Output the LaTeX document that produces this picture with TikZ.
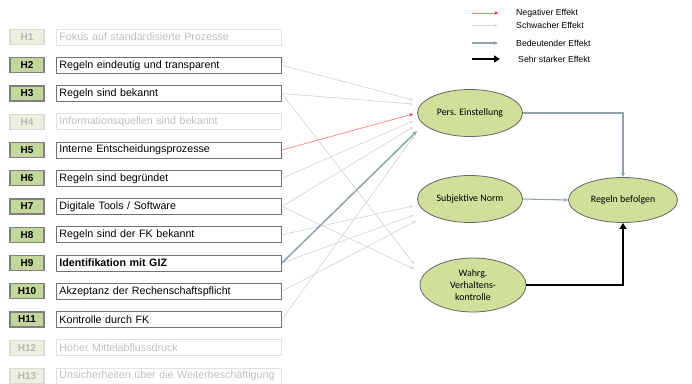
\documentclass[tikz,border=0pt]{standalone}
\usepackage{fontspec}
\setmainfont{Liberation Sans}
\newfontfamily\calib{Carlito}
\usetikzlibrary{arrows.meta,shapes.geometric}

\definecolor{hgreen}{HTML}{C3D69B}
\definecolor{hgreenpale}{HTML}{EBF1DE}
\definecolor{ellgreen}{HTML}{D0DF9A}
\definecolor{sigblue}{HTML}{8FA4A8}
\definecolor{weakgray}{HTML}{D6D6D6}
\definecolor{negred}{HTML}{FF8080}

\tikzset{
  hlab/.style={draw=black!50, line width=1.2pt, fill=hgreen, minimum width=34pt,
    minimum height=15pt, inner sep=0pt, font=\bfseries\fontsize{10}{11}\selectfont},
  hlabfaded/.style={hlab, draw=black!15, fill=hgreenpale, text=black!28},
  tbox/.style={draw=black!55, line width=0.9pt, minimum height=16pt, inner ysep=0pt,
    inner xsep=3pt, text width=219pt, align=left, anchor=west,
    font=\fontsize{10.7}{12}\selectfont},
  tboxfaded/.style={tbox, draw=black!12, text=black!25},
  factor/.style={ellipse, draw=black!60, line width=0.8pt, fill=ellgreen,
    minimum width=105pt, minimum height=47pt, inner sep=0pt, align=center,
    font=\calib\fontsize{9.9}{12}\selectfont},
  weak/.style={draw=weakgray, line width=0.7pt, -{Stealth[length=3.5pt,width=3pt]}},
  negative/.style={draw=negred, line width=0.7pt,
    -{Stealth[length=3.5pt,width=3pt,color=red,fill=red]}},
  significant/.style={draw=sigblue, line width=1.5pt, -{Stealth[length=5pt,width=4.5pt]}},
  pathway/.style={draw=sigblue, line width=1.1pt, -{Stealth[length=4.5pt,width=4pt]}},
  strong/.style={draw=black, line width=2.6pt, -{Triangle[length=6pt,width=7pt]}},
  legendtext/.style={anchor=west, inner sep=0pt, font=\fontsize{8.7}{10}\selectfont},
}

\begin{document}
\begin{tikzpicture}[x=1pt, y=-1pt]
\useasboundingbox (0,0) rectangle (692,383);

% hypotheses: label box and statement box per row (f = faded, a = active)
\foreach \i/\txt/\st in {
  1/{Fokus auf standardisierte Prozesse}/f,
  2/{Regeln eindeutig und transparent}/a,
  3/{Regeln sind bekannt}/a,
  4/{Informationsquellen sind bekannt}/f,
  5/{Interne Entscheidungsprozesse}/a,
  6/{Regeln sind begründet}/a,
  7/{Digitale Tools / Software}/a,
  8/{Regeln sind der FK bekannt}/a,
  9/{\textbf{Identifikation mit GIZ}}/a,
  10/{Akzeptanz der Rechenschaftspflicht}/a,
  11/{Kontrolle durch FK}/a,
  12/{Hoher Mittelabflussdruck}/f,
  13/{Unsicherheiten über die Weiterbeschäftigung}/f}
{
  \pgfmathsetmacro{\yy}{37+(\i-1)*28.25}
  \if\st f
    \node[hlabfaded] (h\i) at (27,\yy) {H\i};
    \node[tboxfaded] (t\i) at (56,\yy) {\txt};
  \else
    \node[hlab] (h\i) at (27,\yy) {H\i};
    \node[tbox] (t\i) at (56,\yy) {\txt};
  \fi
}

% latent factors
\node[factor] (pe) at (470,113) {Pers. Einstellung};
\node[factor] (sn) at (470,199) {Subjektive Norm};
\node[factor, minimum width=106pt, minimum height=54pt] (wv) at (473,285)
  {Wahrg.\\Verhaltens-\\kontrolle};
\node[factor, minimum width=109pt, minimum height=45pt] (rb) at (623,200) {Regeln befolgen};

% arrow targets in front of the factors
\coordinate (pe1) at (413,100);
\coordinate (pe2) at (413,104);
\coordinate (pe3) at (413,114);
\coordinate (pe4) at (413,121);
\coordinate (pe5) at (413,127);
\coordinate (pe6) at (417,131);
\coordinate (pe7) at (414,136);
\coordinate (sn1) at (413,206);
\coordinate (sn2) at (414,215);
\coordinate (sn3) at (416,221);
\coordinate (wv1) at (414,264);
\coordinate (wv2) at (414,269);

% hypothesis effects
\draw[weak] (t2.east) -- (pe1);
\draw[weak] (t3.east) -- (pe2);
\draw[weak] (t6.east) -- (pe4);
\draw[weak] (t7.east) -- (pe5);
\draw[weak] (t11.east) -- (pe7);
\draw[weak] (t8.east) -- (sn1);
\draw[weak] (t9.east) -- (sn2);
\draw[weak] (t10.east) -- (sn3);
\draw[weak] (t3.east) -- (wv1);
\draw[weak] (t7.east) -- (wv2);
\draw[negative] (t5.east) -- (pe3);
\draw[significant] (t9.east) -- (pe6);

% paths to the outcome
\draw[pathway] (pe.east) -| (rb.north);
\draw[pathway] (sn.east) -- (rb.west);
\draw[strong] (wv.east) -| (rb.south);

% legend
\node[legendtext] (lg1) at (516,13) {Negativer Effekt};
\node[legendtext] (lg2) at (516,25.5) {Schwacher Effekt};
\node[legendtext] (lg3) at (516,43) {Bedeutender Effekt};
\node[legendtext] (lg4) at (518,59) {Sehr starker Effekt};
\coordinate (la1) at (472,13);   \coordinate (lb1) at (498,13);
\coordinate (la2) at (472,25.5); \coordinate (lb2) at (498,25.5);
\coordinate (la3) at (472,43);   \coordinate (lb3) at (498,43);
\coordinate (la4) at (472,59);   \coordinate (lb4) at (500,59);
\draw[negative] (la1) -- (lb1);
\draw[weak] (la2) -- (lb2);
\draw[pathway] (la3) -- (lb3);
\draw[strong] (la4) -- (lb4);
\end{tikzpicture}
\end{document}
